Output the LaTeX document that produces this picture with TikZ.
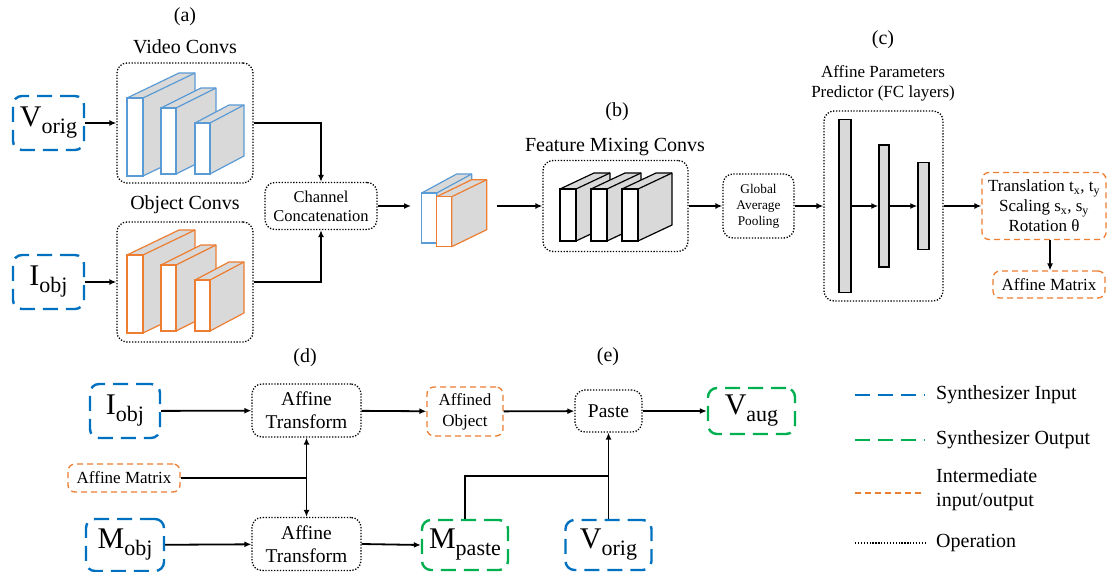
\documentclass[tikz,border=0pt]{standalone}
\usepackage{fontspec}
\setmainfont{Liberation Serif}
\usepackage{tikz}
\usetikzlibrary{positioning,arrows.meta}
\usepackage{xcolor}

\definecolor{synblue}{HTML}{0070C0}
\definecolor{syngreen}{HTML}{00B050}
\definecolor{midorange}{HTML}{ED7D31}
\definecolor{blockblue}{HTML}{5B9BD5}
\definecolor{blockgray}{HTML}{D9D9D9}

\tikzset{
  synin/.style={draw=synblue, line width=2.4pt, dash pattern=on 15pt off 8pt, rounded corners=9pt},
  synout/.style={synin, draw=syngreen},
  interm/.style={draw=midorange, line width=1.3pt, dash pattern=on 6pt off 4pt, rounded corners=7pt},
  oper/.style={draw=black, line width=1.3pt, dash pattern=on 1.3pt off 1.6pt, rounded corners=10pt},
  arr/.style={-{Latex[length=7pt,width=6pt]}, line width=1.8pt},
  wire/.style={line width=1.8pt},
  lbl/.style={font=\fontsize{20}{22}\selectfont},
  big/.style={font=\fontsize{30}{32}\selectfont, inner sep=0pt},
  legtxt/.style={font=\fontsize{20}{24}\selectfont, inner sep=0pt, anchor=west, align=left},
}

% front face at (x,y), size w x h, depth dx/dy, edge colour
\newcommand{\convblock}[7]{%
  \filldraw[draw=#7, line width=1.2pt, fill=blockgray, line join=round]
    (#1,#2) -- ++(#5,-#6) -- ++(#3,0) -- ++(0,#4) -- (#1+#3,#2+#4) -- (#1+#3,#2) -- cycle;
  \draw[draw=#7, line width=1.2pt] (#1+#3,#2) -- ++(#5,-#6);
  \filldraw[draw=#7, line width=1.2pt, fill=white] (#1,#2) rectangle ++(#3,#4);
}
\newcommand{\varsym}[2]{#1\raisebox{-7pt}{\fontsize{22}{22}\selectfont #2}}

\begin{document}
\begin{tikzpicture}[x=1pt,y=-1pt]
\useasboundingbox (0,0) rectangle (1108,572);

% (a) video / object encoders
\node[lbl] (laba) at (185,17) {(a)};
\node[lbl] (labvid) at (185,47) {Video Convs};
\node[lbl] (labobj) at (185,205) {Object Convs};
\node[oper, minimum width=136pt, minimum height=120pt] (vidbox) at (185,123) {};
\node[oper, minimum width=136pt, minimum height=120pt] (objbox) at (185,282) {};
\foreach \x/\y/\w/\h/\dx/\dy in {127/98/16/78/52/25, 161/108/15/66/40/20, 195/123/15/51/34/18} {
  \convblock{\x}{\y}{\w}{\h}{\dx}{\dy}{blockblue}
  \convblock{\x}{\y+157}{\w}{\h}{\dx}{\dy}{midorange}
}
\node[synin, big, minimum width=71pt, minimum height=54pt] (vorig) at (48.5,123) {\varsym{V}{orig}};
\node[synin, big, minimum width=71pt, minimum height=54pt] (iobj) at (48.5,282) {\varsym{I}{obj}};
\draw[arr] (vorig) -- (vidbox);
\draw[arr] (iobj) -- (objbox);

\node[oper, font=\fontsize{16.5}{19}\selectfont, align=center, minimum width=112pt, minimum height=47pt] (cc) at (321,206) {Channel\\Concatenation};
\draw[arr] (vidbox.east) -| (cc.north);
\draw[arr] (objbox.east) -| (cc.south);

% concatenated features
\convblock{421.7}{193}{15}{50}{35}{19}{blockblue}
\convblock{436.7}{196.7}{15}{50}{35}{17}{midorange}
\coordinate (catin) at (411,206);
\coordinate (catout) at (497,206);
\draw[arr] (cc.east) -- (catin);

% (b) feature mixing
\node[lbl] (labb) at (617,112) {(b)};
\node[lbl] (labfm) at (615,147) {Feature Mixing Convs};
\node[oper, minimum width=145pt, minimum height=91pt] (fmbox) at (615.5,206) {};
\foreach \x in {560,591,622}
  \convblock{\x}{189}{16}{52}{34}{16}{black};
\draw[arr] (catout) -- (fmbox.west);

\node[oper, font=\fontsize{13.3}{16}\selectfont, align=center, minimum width=71pt, minimum height=64pt] (gap) at (758.5,206) {Global\\Average\\Pooling};
\draw[arr] (fmbox) -- (gap);

% (c) affine parameters predictor
\node[lbl] (labc) at (883,40) {(c)};
\node[font=\fontsize{17}{20}\selectfont, align=center] (labfc) at (883,83) {Affine Parameters\\Predictor (FC layers)};
\node[oper, minimum width=119pt, minimum height=190pt] (fcbox) at (883.5,206) {};
\node[draw, line width=1.5pt, fill=blockgray, minimum width=12pt, minimum height=173pt, inner sep=0pt] (bar1) at (845,206) {};
\node[draw, line width=1.5pt, fill=blockgray, minimum width=10pt, minimum height=122pt, inner sep=0pt] (bar2) at (884,206) {};
\node[draw, line width=1.5pt, fill=blockgray, minimum width=11pt, minimum height=87pt, inner sep=0pt] (bar3) at (923.5,206) {};
\draw[arr] (gap) -- (fcbox);
\draw[arr] (bar1) -- (bar2);
\draw[arr] (bar2) -- (bar3);

\node[interm, font=\fontsize{17}{20}\selectfont, align=center, minimum width=124pt, minimum height=67pt, inner sep=0pt] (params) at (1044,206)
  {Translation t\textsubscript{x}, t\textsubscript{y}\\Scaling s\textsubscript{x}, s\textsubscript{y}\\Rotation θ};
\node[interm, font=\fontsize{17}{20}\selectfont, minimum width=112pt, minimum height=27pt, inner sep=0pt] (amat) at (1049,284.5) {Affine Matrix};
\draw[arr] (fcbox) -- (params);
\draw[arr] (params.south -| 1050,0) -- (amat.north -| 1050,0);

% (d) affine transform
\node[lbl] (labd) at (305,358) {(d)};
\node[synin, big, minimum width=70pt, minimum height=54pt] (iobjb) at (125,411) {\varsym{I}{obj}};
\node[interm, font=\fontsize{17}{20}\selectfont, minimum width=112pt, minimum height=28pt, inner sep=0pt] (amatb) at (124,478) {Affine Matrix};
\node[synin, big, minimum width=78pt, minimum height=52pt] (mobj) at (125,545) {\varsym{M}{obj}};
\node[oper, font=\fontsize{19.5}{23}\selectfont, align=center, minimum width=109pt, minimum height=53pt, inner sep=0pt] (atf1) at (306.5,410.5) {Affine\\Transform};
\node[oper, font=\fontsize{19.5}{23}\selectfont, align=center, minimum width=109pt, minimum height=53pt, inner sep=0pt] (atf2) at (306.5,544) {Affine\\Transform};
\coordinate (split) at (306.5,478);
\draw[arr] (iobjb) -- (atf1);
\draw[arr] (mobj) -- (atf2);
\draw[wire] (amatb.east) -- (split);
\draw[arr] (split) -- (atf1.south);
\draw[arr] (split) -- (atf2.north);

% (e) paste
\node[lbl] (labe) at (608,357) {(e)};
\node[interm, font=\fontsize{17}{21}\selectfont, align=center, minimum width=76pt, minimum height=49pt, inner sep=0pt] (affobj) at (465,411.5) {Affined\\Object};
\node[oper, font=\fontsize{19.5}{22}\selectfont, minimum width=67pt, minimum height=42pt, inner sep=0pt] (paste) at (608.5,411) {Paste};
\node[synout, big, minimum width=87pt, minimum height=46pt] (vaug) at (751.5,411) {\varsym{V}{aug}};
\node[synout, big, minimum width=86pt, minimum height=50pt] (mpaste) at (465,545) {\varsym{M}{paste}};
\node[synin, big, minimum width=86pt, minimum height=50pt] (vorigb) at (608.5,545) {\varsym{V}{orig}};
\coordinate (join) at (608.5,476);
\draw[arr] (atf1) -- (affobj);
\draw[arr] (affobj) -- (paste);
\draw[arr] (paste) -- (vaug);
\draw[arr] (atf2.east) -- (mpaste.west);
\draw[wire] (mpaste.north) |- (join);
\draw[arr] (vorigb.north) -- (paste.south);

% legend
\draw[synin] (855,395) -- (925,395);
\draw[synout] (855,440) -- (925,440);
\draw[interm] (855,493) -- (921,493);
\draw[oper] (855,543) -- (925,543);
\node[legtxt] (legin) at (936,395) {Synthesizer Input};
\node[legtxt] (legout) at (936,440) {Synthesizer Output};
\node[legtxt] (legmid) at (936,490) {Intermediate\\input/output};
\node[legtxt] (legop) at (936,543) {Operation};
\end{tikzpicture}
\end{document}
